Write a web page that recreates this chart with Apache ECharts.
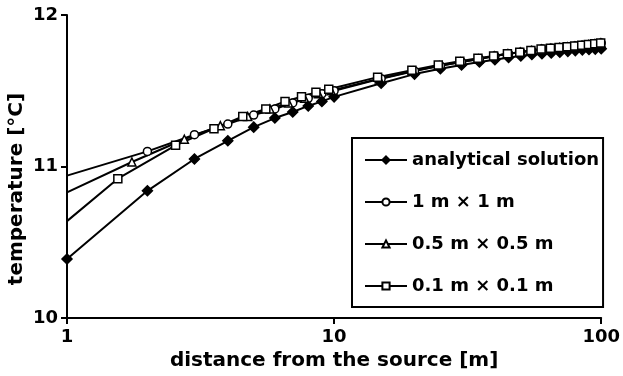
<!DOCTYPE html>
<html>
<head>
<meta charset="utf-8">
<script src="https://cdn.jsdelivr.net/npm/echarts@6/dist/echarts.min.js"></script>
<style>
html,body{margin:0;padding:0;background:#fff;}
#chart{width:623px;height:376px;}
</style>
</head>
<body>
<div id="chart"></div>
<script>
// ---- data ----
var seriesNames = ['analytical solution', '1 m \u00d7 1 m', '0.5 m \u00d7 0.5 m', '0.1 m \u00d7 0.1 m'];

var analyticalX = [1,2,3,4,5,6,7,8,9,10,15,20,25,30,35,40,45,50,55,60,65,70,75,80,85,90,95,100];
var analyticalY = [10.39,10.84,11.05,11.17,11.26,11.32,11.36,11.40,11.43,11.46,11.55,11.61,11.645,11.67,11.69,11.705,11.72,11.73,11.74,11.745,11.75,11.755,11.76,11.765,11.77,11.772,11.775,11.778];

var grid1X = [1,2,3,4,5,6,7,8,9,10,15,20,25,30,35,40,45,50,55,60,65,70,75,80,85,90,95,100];
var grid1Y = [10.94,11.10,11.21,11.28,11.34,11.38,11.42,11.45,11.48,11.50,11.58,11.63,11.665,11.69,11.71,11.73,11.745,11.755,11.765,11.775,11.78,11.785,11.79,11.795,11.80,11.805,11.81,11.815];

var grid05X = [1,1.75,2.75,3.75,4.75,5.75,6.75,7.75,8.75,9.75,14.75,19.75,24.75,29.75,34.75,39.75,44.75,49.75,54.75,59.75,64.75,69.75,74.75,79.75,84.75,89.75,94.75,99.75];
var grid05Y = [10.83,11.03,11.18,11.27,11.33,11.38,11.42,11.45,11.48,11.50,11.58,11.63,11.665,11.69,11.71,11.73,11.745,11.755,11.765,11.775,11.78,11.785,11.79,11.795,11.80,11.805,11.81,11.815];

var grid01X = [1,1.55,2.55,3.55,4.55,5.55,6.55,7.55,8.55,9.55,14.55,19.55,24.55,29.55,34.55,39.55,44.55,49.55,54.55,59.55,64.55,69.55,74.55,79.55,84.55,89.55,94.55,99.55];
var grid01Y = [10.64,10.92,11.14,11.25,11.33,11.38,11.43,11.46,11.49,11.51,11.59,11.635,11.67,11.695,11.715,11.73,11.745,11.755,11.765,11.775,11.78,11.785,11.79,11.795,11.80,11.805,11.81,11.815];

var xTicks = [1, 10, 100];
var yTicks = [10, 11, 12];
var xTitle = 'distance from the source [m]';
var yTitle = 'temperature [\u00b0C]';

// ---- build ----
var FONT = 'DejaVu Sans';
function pairs(xs, ys, hideFirst) {
  return xs.map(function (x, i) {
    var item = { value: [x, ys[i]] };
    if (hideFirst && i === 0) item.symbol = 'none';
    return item;
  });
}
function mkSeries(name, xs, ys, symbol, size, filled, hideFirst) {
  return {
    name: name,
    type: 'line',
    data: pairs(xs, ys, hideFirst),
    symbol: symbol,
    symbolSize: size,
    showAllSymbol: true,
    clip: false,
    lineStyle: { color: '#000', width: 2 },
    itemStyle: { color: filled ? '#000' : '#fff', borderColor: '#000', borderWidth: 1.5 },
    emphasis: { disabled: true },
    animation: false
  };
}

var chart = echarts.init(document.getElementById('chart'), null, { renderer: 'canvas' });
chart.setOption({
  backgroundColor: '#fff',
  animation: false,
  textStyle: { fontFamily: FONT },
  grid: { left: 67, right: 16, top: 15, bottom: 56, containLabel: false },
  xAxis: {
    type: 'log',
    logBase: 10,
    min: xTicks[0],
    max: xTicks[xTicks.length - 1],
    name: xTitle,
    nameLocation: 'middle',
    nameGap: 31,
    nameTextStyle: { fontFamily: FONT, fontWeight: 'bold', fontSize: 20, color: '#000' },
    axisLine: { lineStyle: { color: '#000', width: 2 } },
    axisTick: { show: true, length: 6, lineStyle: { color: '#000', width: 2 } },
    minorTick: { show: false },
    axisLabel: { fontFamily: FONT, fontWeight: 'bold', fontSize: 18, color: '#000', margin: 10 },
    splitLine: { show: false }
  },
  yAxis: {
    type: 'value',
    min: yTicks[0],
    max: yTicks[yTicks.length - 1],
    interval: 1,
    axisLine: { show: true, lineStyle: { color: '#000', width: 2 } },
    axisTick: { show: true, length: 6, lineStyle: { color: '#000', width: 2 } },
    axisLabel: { fontFamily: FONT, fontWeight: 'bold', fontSize: 18, color: '#000', margin: 9 },
    splitLine: { show: false }
  },
  legend: {
    orient: 'vertical',
    left: 352,
    top: 138,
    padding: [12, 4, 11, 12],
    itemGap: 22,
    itemWidth: 42,
    itemHeight: 9,
    backgroundColor: '#fff',
    borderColor: '#000',
    borderWidth: 2,
    textStyle: { fontFamily: FONT, fontWeight: 'bold', fontSize: 18, color: '#000', lineHeight: 20 },
    data: seriesNames
  },
  graphic: [{
    type: 'text',
    x: 17,
    y: 189,
    rotation: Math.PI / 2,
    style: {
      text: yTitle,
      fontFamily: FONT,
      fontWeight: 'bold',
      fontSize: 20,
      fill: '#000',
      textAlign: 'center',
      textVerticalAlign: 'middle'
    }
  }],
  series: [
    mkSeries(seriesNames[0], analyticalX, analyticalY, 'diamond', 10, true, false),
    mkSeries(seriesNames[1], grid1X, grid1Y, 'circle', 8, false, true),
    mkSeries(seriesNames[2], grid05X, grid05Y, 'triangle', 8, false, true),
    mkSeries(seriesNames[3], grid01X, grid01Y, 'rect', 8, false, true)
  ]
});
</script>
</body>
</html>
